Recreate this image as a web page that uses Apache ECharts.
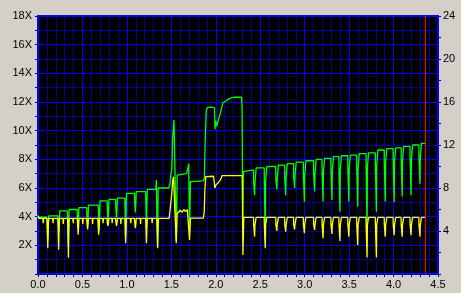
<!DOCTYPE html>
<html>
<head>
<meta charset="utf-8">
<script src="https://cdn.jsdelivr.net/npm/echarts@6/dist/echarts.min.js"></script>
<style>
html,body{margin:0;padding:0;background:#d4d0c8;}
#chart{width:461px;height:293px;}
</style>
</head>
<body>
<div id="chart"></div>
<script>
// X axis (position) range and ticks
const xMin = 0, xMax = 4.5, xStep = 0.5;
// Left axis (speed, X) and right axis
const leftMax = 18, leftStep = 2;
const rightMax = 24, rightStep = 4;
// End-of-data marker position
const endMarker = 4.36;

// Green series (read speed, X)
const greenX = [0.000,0.010,
0.100,0.103,0.110,0.117,0.120,
0.225,0.228,0.235,0.242,0.245,
0.330,0.333,0.340,0.347,0.350,
0.440,0.443,0.450,0.457,0.460,
0.548,0.551,0.558,0.565,0.568,
0.678,0.681,0.688,0.695,0.698,
0.778,0.781,0.788,0.795,0.798,
0.873,0.876,0.883,0.890,0.893,
0.976,0.979,0.986,0.993,0.996,
1.085,1.088,1.095,1.102,1.105,
1.210,1.213,1.220,1.227,1.230,
1.325,1.332,1.338,1.345,1.352,1.470,1.485,1.495,1.505,1.515,1.530,1.548,1.556,1.566,1.580,1.670,1.680,1.695,1.705,1.715,1.860,1.872,1.880,1.893,1.905,1.925,1.940,1.985,1.992,2.000,2.010,2.022,2.040,2.055,2.070,2.080,2.110,2.140,2.170,2.200,2.290,2.296,2.304,2.312,2.330,
2.425,2.426,2.433,2.437,2.441,2.453,2.454,
2.545,2.546,2.553,2.557,2.561,2.573,2.574,
2.675,2.676,2.683,2.687,2.691,2.703,2.704,
2.775,2.776,2.783,2.787,2.791,2.803,2.804,
2.875,2.876,2.883,2.887,2.891,2.903,2.904,
2.985,2.986,2.993,2.997,3.001,3.013,3.014,
3.100,3.101,3.108,3.112,3.116,3.128,3.129,
3.195,3.196,3.203,3.207,3.211,3.223,3.224,
3.295,3.296,3.303,3.307,3.311,3.323,3.324,
3.385,3.386,3.393,3.397,3.401,3.413,3.414,
3.485,3.486,3.493,3.497,3.501,3.513,3.514,
3.585,3.586,3.593,3.597,3.601,3.613,3.614,
3.690,3.691,3.698,3.702,3.706,3.718,3.719,
3.795,3.796,3.803,3.807,3.811,3.823,3.824,
3.895,3.896,3.903,3.907,3.911,3.923,3.924,
3.995,3.996,4.003,4.007,4.011,4.023,4.024,
4.085,4.086,4.093,4.097,4.101,4.113,4.114,
4.185,4.186,4.193,4.197,4.201,4.213,4.214,
4.285,4.286,4.293,4.297,4.301,4.313,4.314,
4.357];
const greenY = [4.10,3.96,
3.96,3.36,2.40,3.45,4.05,
4.05,3.45,2.95,3.80,4.40,
4.40,3.80,2.00,3.90,4.50,
4.50,3.90,3.20,4.03,4.63,
4.63,4.03,3.40,4.20,4.80,
4.80,4.20,3.00,4.50,5.10,
5.10,4.50,3.60,4.60,5.20,
5.20,4.60,3.90,4.70,5.30,
5.30,4.70,2.60,5.03,5.63,
5.63,5.03,4.30,5.15,5.75,
5.75,5.15,3.20,5.30,5.90,
5.90,6.55,3.50,2.00,6.00,6.00,6.30,7.00,7.26,9.50,10.75,10.75,2.30,6.90,7.00,7.00,7.20,7.70,2.95,6.45,6.50,6.70,9.10,11.40,11.60,11.50,11.65,11.60,10.10,10.70,10.30,10.60,10.70,11.30,11.40,11.95,12.05,12.20,12.28,12.33,12.33,11.56,3.20,7.14,7.26,
7.26,6.36,6.36,5.50,6.36,6.36,7.40,
7.40,6.50,6.50,2.30,6.50,6.50,7.50,
7.50,6.60,6.60,5.90,6.60,6.60,7.60,
7.60,6.70,6.70,5.50,6.70,6.70,7.70,
7.70,6.80,6.80,6.00,6.80,6.80,7.80,
7.80,6.90,6.90,5.05,6.90,6.90,7.90,
7.90,7.00,7.00,5.75,7.00,7.00,8.00,
8.00,7.10,7.10,5.05,7.10,7.10,8.07,
8.07,7.17,7.17,5.16,7.17,7.17,8.19,
8.19,7.29,7.29,4.35,7.29,7.29,8.25,
8.25,7.35,7.35,5.05,7.35,7.35,8.30,
8.30,7.40,7.40,4.70,7.40,7.40,8.40,
8.40,7.50,7.50,3.20,7.50,7.50,8.45,
8.45,7.55,7.55,4.35,7.55,7.55,8.65,
8.65,7.75,7.75,5.05,7.75,7.75,8.75,
8.75,7.85,7.85,5.00,7.85,7.85,8.80,
8.80,7.90,7.90,5.40,7.90,7.90,8.90,
8.90,8.00,8.00,5.50,8.00,8.00,9.00,
9.00,8.10,8.10,6.30,8.10,8.10,9.12,
9.12];

// Yellow series
const yellowX = [0.000,0.008,
0.055,0.059,0.063,
0.100,0.103,0.110,0.117,0.120,
0.165,0.169,0.173,
0.222,0.225,0.232,0.239,0.242,
0.280,0.284,0.288,
0.332,0.335,0.342,0.349,0.352,
0.392,0.396,0.400,
0.442,0.445,0.452,0.459,0.462,
0.500,0.504,0.508,
0.548,0.551,0.558,0.565,0.568,
0.610,0.614,0.618,
0.672,0.675,0.682,0.689,0.692,
0.728,0.732,0.736,
0.776,0.779,0.786,0.793,0.796,
0.830,0.834,0.838,
0.873,0.876,0.883,0.890,0.893,
0.928,0.932,0.936,
0.976,0.979,0.986,0.993,0.996,
1.040,1.044,1.048,
1.085,1.088,1.095,1.102,1.105,
1.150,1.154,1.158,
1.210,1.213,1.220,1.227,1.230,
1.280,1.284,1.288,
1.336,1.339,1.346,1.353,1.356,
1.475,1.490,1.505,1.515,1.525,1.545,1.555,1.565,1.580,1.600,1.620,1.640,1.660,1.680,1.695,1.705,1.715,1.860,1.870,1.878,1.888,1.975,1.990,2.000,2.010,2.025,2.040,2.055,2.070,2.298,2.305,2.315,
2.425,2.426,2.433,2.437,2.441,2.453,2.454,
2.545,2.546,2.553,2.557,2.561,2.573,2.574,
2.675,2.676,2.683,2.687,2.691,2.703,2.704,
2.775,2.776,2.783,2.787,2.791,2.803,2.804,
2.875,2.876,2.883,2.887,2.891,2.903,2.904,
2.985,2.986,2.993,2.997,3.001,3.013,3.014,
3.100,3.101,3.108,3.112,3.116,3.128,3.129,
3.195,3.196,3.203,3.207,3.211,3.223,3.224,
3.295,3.296,3.303,3.307,3.311,3.323,3.324,
3.385,3.386,3.393,3.397,3.401,3.413,3.414,
3.485,3.486,3.493,3.497,3.501,3.513,3.514,
3.585,3.586,3.593,3.597,3.601,3.613,3.614,
3.690,3.691,3.698,3.702,3.706,3.718,3.719,
3.795,3.796,3.803,3.807,3.811,3.823,3.824,
3.895,3.896,3.903,3.907,3.911,3.923,3.924,
3.995,3.996,4.003,4.007,4.011,4.023,4.024,
4.085,4.086,4.093,4.097,4.101,4.113,4.114,
4.185,4.186,4.193,4.197,4.201,4.213,4.214,
4.285,4.286,4.293,4.297,4.301,4.313,4.314,
4.357];
const yellowY = [4.05,3.88,
3.88,3.55,3.88,
3.88,3.60,1.79,3.60,3.88,
3.88,3.55,3.88,
3.88,3.60,1.70,3.60,3.88,
3.88,3.50,3.88,
3.88,3.60,1.14,3.60,3.88,
3.88,3.55,3.88,
3.88,3.60,2.74,3.60,3.88,
3.88,3.50,3.88,
3.88,3.60,3.10,3.60,3.88,
3.88,3.50,3.88,
3.88,3.60,2.74,3.60,3.88,
3.88,3.55,3.88,
3.88,3.60,3.35,3.60,3.88,
3.88,3.55,3.88,
3.88,3.60,3.35,3.60,3.88,
3.88,3.50,3.88,
3.88,3.60,2.14,3.60,3.88,
3.88,3.55,3.88,
3.88,3.60,3.20,3.60,3.88,
3.88,3.50,3.88,
3.88,3.60,2.14,3.60,3.88,
3.88,3.55,3.88,
3.88,3.60,1.79,3.60,3.88,
3.88,4.70,5.60,6.50,6.79,6.79,2.14,4.20,4.30,4.45,4.30,4.50,4.35,4.50,4.60,2.37,3.90,3.90,4.30,6.00,6.80,6.82,6.00,6.20,6.10,6.35,6.30,6.60,6.86,6.86,1.33,3.95,
3.95,3.45,3.45,2.60,3.45,3.45,3.95,
3.95,3.45,3.45,1.79,3.45,3.45,3.95,
3.95,3.45,3.45,3.00,3.45,3.45,3.95,
3.95,3.45,3.45,2.95,3.45,3.45,3.95,
3.95,3.45,3.45,3.10,3.45,3.45,3.95,
3.95,3.45,3.45,2.85,3.45,3.45,3.95,
3.95,3.45,3.45,3.07,3.45,3.45,3.95,
3.95,3.45,3.45,2.49,3.45,3.45,3.95,
3.95,3.45,3.45,2.80,3.45,3.45,3.95,
3.95,3.45,3.45,2.30,3.45,3.45,3.95,
3.95,3.45,3.45,2.60,3.45,3.45,3.95,
3.95,3.45,3.45,2.02,3.45,3.45,3.95,
3.95,3.45,3.45,1.16,3.45,3.45,3.95,
3.95,3.45,3.45,1.16,3.45,3.45,3.95,
3.95,3.45,3.45,2.60,3.45,3.45,3.95,
3.95,3.45,3.45,2.70,3.45,3.45,3.95,
3.95,3.45,3.45,2.60,3.45,3.45,3.95,
3.95,3.45,3.45,2.70,3.45,3.45,3.95,
3.95,3.45,3.45,2.60,3.45,3.45,3.95,
3.95];

const font = {color:'#000000', fontFamily:'Liberation Sans', fontSize:11};
const tickStyle = {color:'#000080', width:1};

const chart = echarts.init(document.getElementById('chart'), null, {renderer:'canvas'});
chart.setOption({
  animation:false,
  backgroundColor:'#d4d0c8',
  grid:{left:38, right:23, top:16, bottom:19, show:true, backgroundColor:'#000000', borderColor:'#0000ff', borderWidth:2},
  xAxis:{
    type:'value', min:xMin, max:xMax, interval:xStep,
    axisLine:{show:true, onZero:false, lineStyle:{color:'#0000ff', width:2}},
    axisTick:{show:true, length:3, lineStyle:tickStyle},
    minorTick:{show:true, splitNumber:5, length:3, lineStyle:tickStyle},
    splitLine:{show:true, lineStyle:{color:'#0000ff', width:1}},
    minorSplitLine:{show:true, lineStyle:{color:'#00009a', width:1}},
    axisLabel:Object.assign({margin:5, formatter:v=>v.toFixed(1), showMinLabel:true, showMaxLabel:true}, font)
  },
  yAxis:[{
    type:'value', min:0, max:leftMax, interval:leftStep, position:'left',
    axisLine:{show:true, lineStyle:{color:'#0000ff', width:2}},
    axisTick:{show:true, length:3, lineStyle:tickStyle},
    minorTick:{show:true, splitNumber:2, length:3, lineStyle:tickStyle},
    splitLine:{show:true, lineStyle:{color:'#0000ff', width:1}},
    minorSplitLine:{show:true, lineStyle:{color:'#00009a', width:1}},
    axisLabel:Object.assign({margin:6, formatter:v=>v===0?'':v+'X'}, font)
  },{
    type:'value', min:0, max:rightMax, interval:rightStep, position:'right',
    axisLine:{show:true, lineStyle:{color:'#0000ff', width:2}},
    axisTick:{show:true, length:3, lineStyle:tickStyle},
    minorTick:{show:true, splitNumber:2, length:3, lineStyle:tickStyle},
    splitLine:{show:false},
    minorSplitLine:{show:false},
    axisLabel:Object.assign({margin:5, formatter:v=>v===0?'':String(v)}, font)
  }],
  series:[{
    type:'line', name:'green', yAxisIndex:0,
    data:greenX.map((x,i)=>[x,greenY[i]]),
    symbol:'none', showSymbol:false, smooth:false,
    lineStyle:{color:'#00ff00', width:1.3}, z:3
  },{
    type:'line', name:'yellow', yAxisIndex:0,
    data:yellowX.map((x,i)=>[x,yellowY[i]]),
    symbol:'none', showSymbol:false, smooth:false,
    lineStyle:{color:'#ffff00', width:1.3}, z:4,
    markLine:{silent:true, symbol:['none','none'], label:{show:false},
      lineStyle:{color:'#ff0000', width:1, type:'solid'},
      data:[{xAxis:endMarker}]}
  }]
});
</script>
</body>
</html>
